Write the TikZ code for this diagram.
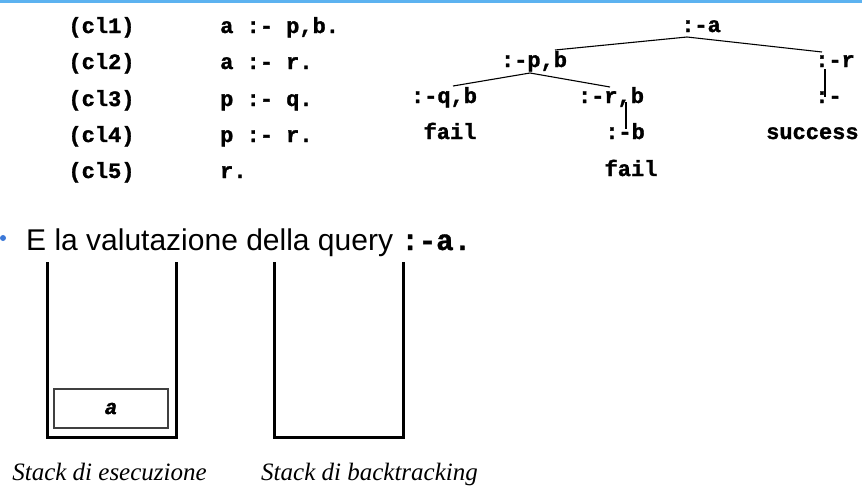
\documentclass[tikz,border=0pt]{standalone}
\usepackage{fontspec}
\setmainfont{Liberation Sans}
\newfontfamily\monofam{Liberation Mono}
\newfontfamily\codefam[FakeBold=1.3]{Liberation Mono Bold}
\newfontfamily\codeitfam[FakeBold=1.3]{Liberation Mono Bold Italic}
\newfontfamily\seriffam{Liberation Serif}
\definecolor{topblue}{RGB}{92,178,240}
\definecolor{bulletblue}{RGB}{60,120,216}
\begin{document}
\begin{tikzpicture}[x=1pt,y=-1pt,
  code/.style={inner sep=0pt,font=\codefam\fontsize{22}{24}\selectfont},
  edge/.style={line width=1.1pt,black},
  stackwall/.style={line width=3pt,black,line join=miter},
  caption/.style={inner sep=0pt,font=\seriffam\itshape\fontsize{25}{28}\selectfont}]
\useasboundingbox (0,0) rectangle (862,501);
\fill[topblue] (0,0) rectangle (862,2.5);
% clauses
\node[code,anchor=base] (l1) at (101.5,33) {(cl1)};
\node[code,anchor=base] (l2) at (101.5,69) {(cl2)};
\node[code,anchor=base] (l3) at (101.5,106) {(cl3)};
\node[code,anchor=base] (l4) at (101.5,142) {(cl4)};
\node[code,anchor=base] (l5) at (101.5,178) {(cl5)};
\node[code,anchor=base west] (c1) at (220,33) {a :- p,b.};
\node[code,anchor=base west] (c2) at (220,69) {a :- r.};
\node[code,anchor=base west] (c3) at (220,106) {p :- q.};
\node[code,anchor=base west] (c4) at (220,142) {p :- r.};
\node[code,anchor=base west] (c5) at (220,178) {r.};
% tree
\node[code,anchor=base] (ta) at (701,32) {:-a};
\node[code,anchor=base] (tpb) at (534,67) {:-p,b};
\node[code,anchor=base west] (tr) at (815,67) {:-r};
\node[code,anchor=base] (tqb) at (444,103) {:-q,b};
\node[code,anchor=base] (trb) at (611,103) {:-r,b};
\node[code,anchor=base west] (te) at (815,103) {:-};
\node[code,anchor=base] (f1) at (450,139) {fail};
\node[code,anchor=base] (tb) at (625,139) {:-b};
\node[code,anchor=base west] (ts) at (766,139) {success};
\node[code,anchor=base] (f2) at (631,176) {fail};
\coordinate (taS) at (687,37);
\coordinate (tpbN) at (555,50);
\coordinate (trN) at (822,52);
\coordinate (tpbS) at (530,73);
\coordinate (tqbN) at (453,86);
\coordinate (trbN) at (610,87);
\coordinate (trbS) at (626,102);
\coordinate (tbN) at (626,129);
\coordinate (trS) at (825,69);
\coordinate (teN) at (825,97);
\draw[edge] (taS) -- (tpbN);
\draw[edge] (taS) -- (trN);
\draw[edge] (tpbS) -- (tqbN);
\draw[edge] (tpbS) -- (trbN);
\draw[edge] (trbS) -- (tbN);
\draw[edge] (trS) -- (teN);
% bullet line
\fill[bulletblue] (3,238) circle (3);
\node[inner sep=0pt,anchor=base west,font=\fontsize{30}{34}\selectfont] (q) at (26,250) {E la valutazione della query \codefam\fontsize{29}{30}\selectfont :-a.};
% stacks
\draw[stackwall] (47,262) -- (47,437) -- (176,437) -- (176,262);
\draw[stackwall] (274,262) -- (274,437) -- (403,437) -- (403,262);
\node[draw=black!75,line width=1.2pt,minimum width=114pt,minimum height=39pt,inner sep=0pt,font=\codeitfam\fontsize{21}{22}\selectfont] (sa) at (111,408.5) {a};
\node[caption,anchor=base] (cap1) at (109.5,480) {Stack di esecuzione};
\node[caption,anchor=base] (cap2) at (369.5,480) {Stack di backtracking};
\end{tikzpicture}
\end{document}
